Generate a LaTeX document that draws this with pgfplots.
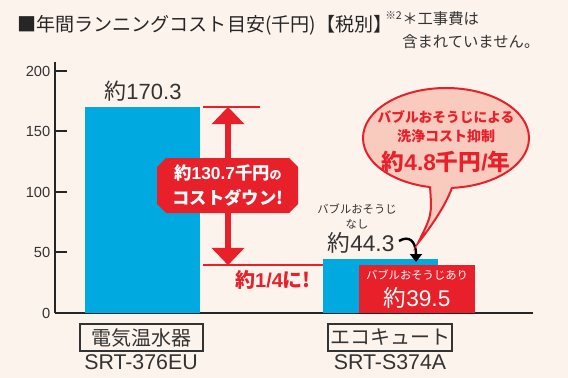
\documentclass[border=0pt]{standalone}
\usepackage{pgfplots}
\pgfplotsset{compat=1.18}
\usepackage{fontspec}
\setmainfont{Liberation Sans}
\newfontfamily\jp{Noto Sans CJK JP}
\usetikzlibrary{arrows.meta}
\definecolor{bg}{HTML}{FDF3ED}
\definecolor{cblue}{HTML}{00A9E0}
\definecolor{cred}{HTML}{E8202A}
\definecolor{bub}{HTML}{F9CBBE}
\definecolor{txt}{HTML}{333333}
\newcommand{\fs}[1]{\fontsize{#1}{#1}\selectfont}
\begin{document}
\begin{tikzpicture}
\begin{scope}[x=0.75pt,y=-0.75pt]
\fill[bg] (0,0) rectangle (568,378);
\end{scope}
\begin{axis}[
  at={(41.25pt,-234.75pt)}, anchor=south west,
  scale only axis, width=358.5pt, height=188.25pt,
  xmin=55, xmax=533, ymin=0, ymax=207.4,
  axis x line=bottom, axis y line=left,
  axis line style={line width=1.5pt, -, color=black!85},
  xtick=\empty, ytick={0,50,100,150,200},
  tick align=inside, major tick length=9pt,
  tick style={line width=1.5pt, color=black!85},
  yticklabel style={font=\fs{11}, text=txt},
  /pgf/number format/assume math mode=true,
  clip=false,
]
\addplot[ybar, bar width=115, bar shift=0pt, fill=cblue, draw=none] coordinates {(142.5,170.3)};
\draw[cred, line width=1.5pt] (axis cs:203,170.3) -- (axis cs:260,170.3);
\draw[cred, line width=1.5pt] (axis cs:203,39.5) -- (axis cs:330,39.5);
\addplot[ybar, bar width=115, bar shift=0pt, fill=cblue, draw=none] coordinates {(380.5,44.3)};
\addplot[ybar, bar width=116, bar shift=0pt, fill=cred, draw=none] coordinates {(417,39.5)};
\draw[cred, line width=5pt, {Triangle[width=24pt,length=13pt]}-{Triangle[width=24pt,length=13pt]}] (axis cs:228,170.3) -- (axis cs:228,39.5);
\end{axis}
\begin{scope}[x=0.75pt,y=-0.75pt]
% title
\node[anchor=west, inner sep=0pt, text=black!85] at (17,25) {\fs{14.3}\jp ■年間ランニングコスト目安(千円)【税別】};
\node[anchor=west, inner sep=0pt, text=txt] at (385,16) {\fs{8}\jp ※2};
\node[anchor=west, inner sep=0pt, text=txt] at (402,19) {\fs{11.5}\jp ＊工事費は};
\node[anchor=west, inner sep=0pt, text=txt] at (402,42) {\fs{11.5}\jp 含まれていません。};
% bar value labels
\node[text=txt] at (143,91) {\fs{16.5}{\jp 約}170.3};
% cost-down box
\fill[cred] (166,158) -- (289,158) -- (298,167) -- (298,204) -- (289,213) -- (166,213) -- (157,204) -- (157,167) -- cycle;
\node[text=white] at (228,173) {\fs{13}\bfseries{\jp 約}130.7{\jp 千円}{\fs{9}\jp の}};
\node[text=white] at (228,198) {\fs{13}\bfseries\jp コストダウン!};
\node[text=cred] at (273,280) {\fs{15}\bfseries{\jp 約}1/4{\jp に!}};
% eco labels
\node[text=txt] at (357,209) {\fs{8.5}\jp バブルおそうじ};
\node[text=txt] at (357,224) {\fs{8.5}\jp なし};
\node[text=txt] at (361,243) {\fs{17}{\jp 約}44.3};
\draw[black, line width=1.8pt, -{Triangle[width=9pt,length=6pt]}] (399,241) .. controls (409,235) and (416,241) .. (416,262);
\node[text=white] at (417,275) {\fs{8.5}\jp バブルおそうじあり};
\node[text=white] at (417,298) {\fs{17}{\jp 約}39.5};
% bubble
\filldraw[fill=bub, draw=cred, line width=1.5pt] (446,138) ellipse [x radius=83, y radius=50];
\fill[bub] (430,180) -- (430,186) .. controls (432,215) .. (418,243) .. controls (435,222) and (448,200) .. (452,187) -- (452,180) -- cycle;
\draw[cred, line width=1.5pt] (430,186.5) .. controls (432,215) .. (418,243) .. controls (435,222) and (448,200) .. (452,187.5);
\node[text=cred] at (446,117) {\fs{10.3}\bfseries\jp バブルおそうじによる};
\node[text=cred] at (446,136) {\fs{10.5}\bfseries\jp 洗浄コスト抑制};
\node[text=cred] at (446,162) {\fs{17}\bfseries{\jp 約}4.8{\jp 千円}/{\jp 年}};
% category labels
\node[draw=txt, line width=1pt, minimum width=92.25pt, minimum height=20.25pt, inner sep=0pt, text=txt] at (141.5,337.5) {\fs{15}\jp 電気温水器};
\node[text=txt] at (141,362) {\fs{16}SRT-376EU};
\node[draw=txt, line width=1pt, minimum width=93pt, minimum height=20.25pt, inner sep=0pt, text=txt] at (390,337.5) {\fs{15}\jp エコキュート};
\node[text=txt] at (390,362) {\fs{16}SRT-S374A};
\end{scope}
\end{tikzpicture}
\end{document}
